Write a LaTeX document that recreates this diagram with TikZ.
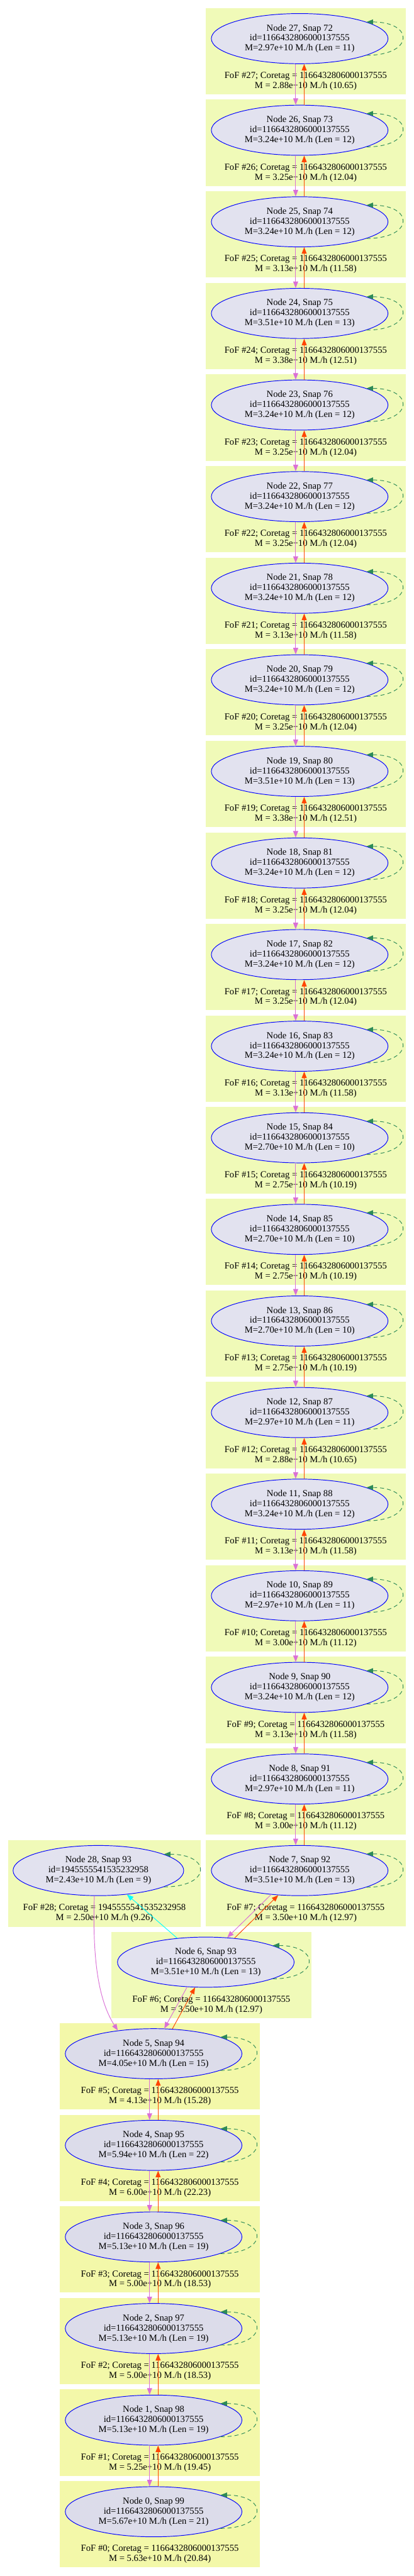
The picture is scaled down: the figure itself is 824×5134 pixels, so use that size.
\documentclass[tikz,border=0pt]{standalone}
\usepackage{fontspec}
\setmainfont{Liberation Serif}
\usetikzlibrary{arrows.meta,shapes.geometric}
\definecolor{fofpale}{HTML}{F0FAB8}
\definecolor{fofdeep}{HTML}{F3F8A9}
\definecolor{halopale}{HTML}{E2E2EF}
\definecolor{halodeep}{HTML}{DCDCEA}
\definecolor{progline}{HTML}{DA70D6}
\definecolor{descline}{HTML}{FF4500}
\definecolor{loopline}{HTML}{2E8B57}
\definecolor{mergeline}{HTML}{00FFFF}
\begin{document}
\begin{tikzpicture}[x=0.5pt, y=-0.5pt, font=\fontsize{9.2}{10}\selectfont, line join=round, >={Triangle[length=6.5pt,width=5pt]}]
    \def\pitch{182.55} \def\idmain{1166432806000137555}
					\tikzset{halo/.style={ellipse, draw=blue, fill=halopale, line width=0.6pt, minimum width=176pt, minimum height=50pt, inner sep=0pt, align=center},
						foflab/.style={align=center, inner sep=0pt},
						prog/.style={->, draw=progline, line width=0.6pt},
						desc/.style={->, draw=descline, line width=0.6pt},
						selfloop/.style={->, draw=loopline, line width=0.6pt, dash pattern=on 4pt off 3pt}}
					\useasboundingbox (0,0) rectangle (824,5134);
					% main branch, snaps 72 to 92
					\foreach \nd/\ms/\ln/\fm/\fr [count=\i from 0] in {27/2.97/11/2.88/10.65, 26/3.24/12/3.25/12.04, 25/3.24/12/3.13/11.58, 24/3.51/13/3.38/12.51, 23/3.24/12/3.25/12.04, 22/3.24/12/3.25/12.04, 21/3.24/12/3.13/11.58, 20/3.24/12/3.25/12.04, 19/3.51/13/3.38/12.51, 18/3.24/12/3.25/12.04, 17/3.24/12/3.25/12.04, 16/3.24/12/3.13/11.58, 15/2.70/10/2.75/10.19, 14/2.70/10/2.75/10.19, 13/2.70/10/2.75/10.19, 12/2.97/11/2.88/10.65, 11/3.24/12/3.13/11.58, 10/2.97/11/3.00/11.12, 9/3.24/12/3.13/11.58, 8/2.97/11/3.00/11.12, 7/3.51/13/3.50/12.97}{
						\pgfmathsetmacro{\yc}{77+\i*\pitch}
						\pgfmathtruncatemacro{\sn}{99-\nd}
						\fill[fofpale] (410,\yc-61) rectangle (808,\yc+111);
						\node[halo] (n\nd) at (597,\yc) {Node \nd, Snap \sn\\id=\idmain\\M=\ms e+10 M./h (Len = \ln)};
						\node[foflab] (f\nd) at (609,\yc+85) {FoF \#\nd; Coretag = \idmain\\M = \fm e+10 M./h (\fr)};
					}
					% side branch and snap 93
					\fill[fofpale] (16,3668) rectangle (400,3840);
					\node[halo, minimum width=170pt] (n28) at (196,3728) {Node 28, Snap 93\\id=1945555541535232958\\M=2.43e+10 M./h (Len = 9)};
					\node[foflab] (f28) at (208,3813) {FoF \#28; Coretag = 1945555541535232958\\M = 2.50e+10 M./h (9.26)};
					\fill[fofpale] (222,3850) rectangle (620,4022);
					\node[halo] (n6) at (410,3910.6) {Node 6, Snap 93\\id=\idmain\\M=3.51e+10 M./h (Len = 13)};
					\node[foflab] (f6) at (421,3995.6) {FoF \#6; Coretag = \idmain\\M = 3.50e+10 M./h (12.97)};
					% snaps 94 to 99
					\foreach \nd/\ms/\ln/\fm/\fr [count=\i from 0] in {5/4.05/15/4.13/15.28, 4/5.94/22/6.00/22.23, 3/5.13/19/5.00/18.53, 2/5.13/19/5.00/18.53, 1/5.13/19/5.25/19.45, 0/5.67/21/5.63/20.84}{
						\pgfmathsetmacro{\yc}{4093.1+\i*\pitch}
						\pgfmathtruncatemacro{\sn}{99-\nd}
						\fill[fofdeep] (119,\yc-61) rectangle (518,\yc+111);
						\node[halo, fill=halodeep] (n\nd) at (306,\yc) {Node \nd, Snap \sn\\id=\idmain\\M=\ms e+10 M./h (Len = \ln)};
						\node[foflab] (f\nd) at (318.5,\yc+85) {FoF \#\nd; Coretag = \idmain\\M = \fm e+10 M./h (\fr)};
					}
					\foreach \nd in {0,...,28}
					\draw[selfloop] (n\nd.-14) .. controls +(95,0) and +(95,0) .. (n\nd.14);
					\foreach \nd [evaluate=\nd as \up using int(\nd+1)] in {7,...,26}{
						\draw[prog] ([xshift=-4pt]n\up.south) -- ([xshift=-4pt]n\nd.north);
						\draw[desc] ([xshift=4.5pt]n\nd.north) -- ([xshift=4.5pt]n\up.south);
					}
					\foreach \nd [evaluate=\nd as \up using int(\nd+1)] in {0,...,4}{
						\draw[prog] ([xshift=-4pt]n\up.south) -- ([xshift=-4pt]n\nd.north);
						\draw[desc] ([xshift=4.5pt]n\nd.north) -- ([xshift=4.5pt]n\up.south);
					}
					\draw[prog] (n7.-140) -- (n6.49);
					\draw[desc] (n6.40) -- (n7.-131);
					\draw[prog] (n6.-127) -- (n5.67);
					\draw[desc] (n5.53) -- (n6.-113);
					\draw[->, draw=mergeline, line width=0.6pt] (n6.140) -- (n28.-40);
					\draw[prog] ([xshift=-4pt]n28.south) .. controls +(-4,120) and +(-40,-62) .. (n5.147);
    \end{tikzpicture}
\end{document}
